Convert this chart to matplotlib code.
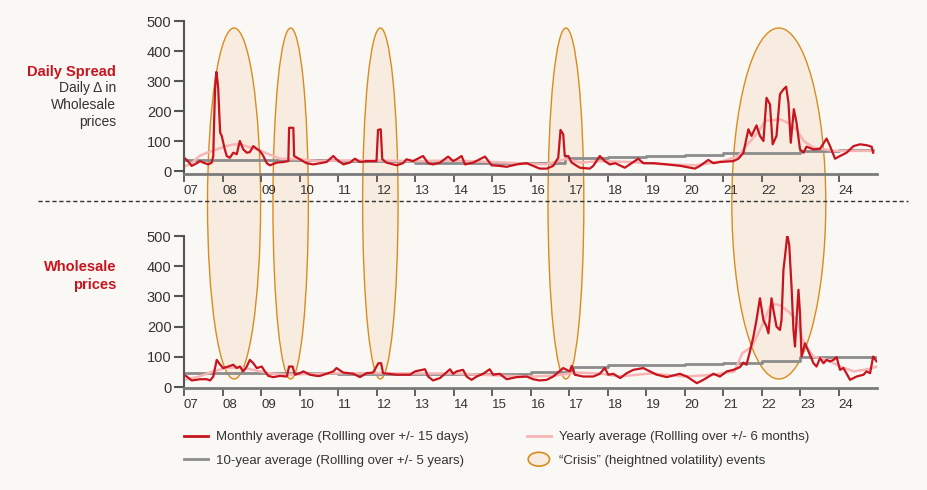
import matplotlib
matplotlib.use('Agg')
import matplotlib.pyplot as plt
from matplotlib.patches import Ellipse
from matplotlib.lines import Line2D
from matplotlib.legend_handler import HandlerPatch
from matplotlib.transforms import blended_transform_factory

plt.rcParams['font.family'] = ['Liberation Sans', 'DejaVu Sans']

# Daily spread (top panel)
spread_month_x = [2007.00, 2007.10, 2007.20, 2007.33, 2007.42, 2007.50, 2007.63, 2007.72, 2007.76, 2007.79,
                  2007.81, 2007.84, 2007.87, 2007.89, 2007.92, 2007.94, 2007.98, 2008.06, 2008.11, 2008.19,
                  2008.28, 2008.37, 2008.45, 2008.54, 2008.63, 2008.71, 2008.80, 2008.89, 2008.97, 2009.06,
                  2009.15, 2009.23, 2009.41, 2009.58, 2009.71, 2009.73, 2009.84, 2009.86, 2010.01, 2010.18,
                  2010.36, 2010.53, 2010.70, 2010.88, 2010.96, 2011.14, 2011.31, 2011.44, 2011.57, 2011.74,
                  2012.00, 2012.04, 2012.11, 2012.15, 2012.26, 2012.52, 2012.69, 2012.78, 2012.95, 2013.21,
                  2013.34, 2013.47, 2013.65, 2013.86, 2013.99, 2014.08, 2014.21, 2014.30, 2014.51, 2014.82,
                  2014.99, 2015.20, 2015.38, 2015.64, 2015.90, 2016.07, 2016.24, 2016.42, 2016.59, 2016.72,
                  2016.78, 2016.85, 2016.89, 2016.98, 2017.07, 2017.28, 2017.54, 2017.63, 2017.80, 2017.93,
                  2018.06, 2018.20, 2018.45, 2018.65, 2018.80, 2018.93, 2019.20, 2019.55, 2019.90, 2020.27,
                  2020.40, 2020.62, 2020.75, 2020.92, 2021.27, 2021.40, 2021.53, 2021.66, 2021.74, 2021.87,
                  2021.96, 2022.05, 2022.13, 2022.22, 2022.29, 2022.39, 2022.48, 2022.57, 2022.64, 2022.70,
                  2022.76, 2022.84, 2022.91, 2023.00, 2023.09, 2023.17, 2023.35, 2023.52, 2023.69, 2023.78,
                  2023.91, 2024.04, 2024.21, 2024.39, 2024.56, 2024.73, 2024.86, 2024.90]
spread_month_y = [45, 33, 17, 26, 33, 28, 22, 28, 50, 200,
                  283, 330, 300, 272, 180, 128, 117, 72, 50, 44,
                  61, 56, 100, 72, 61, 63, 83, 74, 67, 50,
                  26, 19, 28, 30, 33, 144, 144, 50, 39, 26,
                  22, 26, 30, 50, 39, 22, 28, 41, 30, 33,
                  33, 137, 139, 39, 28, 19, 26, 39, 33, 50,
                  26, 22, 28, 48, 33, 39, 50, 22, 28, 48,
                  19, 17, 14, 22, 26, 17, 8, 8, 17, 44,
                  137, 122, 50, 50, 28, 11, 8, 17, 50, 33,
                  22, 26, 11, 28, 41, 26, 26, 22, 17, 8,
                  17, 37, 26, 30, 33, 41, 61, 139, 117, 152,
                  117, 100, 244, 222, 89, 117, 256, 272, 281, 228,
                  94, 206, 161, 72, 61, 81, 72, 74, 108, 83,
                  41, 50, 61, 83, 89, 86, 81, 61]

spread_year_x = [2007.0, 2007.2, 2007.4, 2007.6, 2007.85, 2008.1, 2008.3, 2008.5, 2008.9, 2009.2,
                 2009.5, 2010.0, 2010.5, 2011.0, 2012.0, 2013.0, 2014.0, 2015.0, 2015.8, 2016.4,
                 2016.9, 2017.3, 2017.8, 2018.6, 2019.5, 2020.3, 2021.0, 2021.4, 2021.6, 2021.9,
                 2022.1, 2022.5, 2022.75, 2022.9, 2023.1, 2023.35, 2023.9, 2024.4, 2024.9]
spread_year_y = [14, 26, 50, 61, 72, 83, 89, 87, 72, 56,
                 41, 39, 33, 35, 35, 33, 35, 30, 25, 22,
                 40, 28, 33, 30, 22, 19, 33, 50, 83, 128,
                 167, 172, 156, 139, 100, 78, 67, 67, 67]

spread_decade_x = [2007.0, 2011.0, 2013.0, 2015.0, 2016.9, 2018.0, 2019.0, 2020.0, 2021.0, 2022.0, 2023.0, 2024.0, 2024.9]
spread_decade_y = [38, 32, 28, 26, 43, 47, 50, 54, 59, 61, 67, 70, 70]

# Wholesale prices (bottom panel)
price_month_x = [2007.00, 2007.07, 2007.20, 2007.42, 2007.59, 2007.68, 2007.76, 2007.85, 2007.94, 2008.02,
                 2008.15, 2008.28, 2008.37, 2008.45, 2008.54, 2008.63, 2008.71, 2008.80, 2008.89, 2009.02,
                 2009.10, 2009.19, 2009.32, 2009.49, 2009.67, 2009.73, 2009.82, 2009.88, 2010.01, 2010.10,
                 2010.27, 2010.45, 2010.53, 2010.70, 2010.88, 2010.96, 2011.14, 2011.40, 2011.57, 2011.74,
                 2011.91, 2012.05, 2012.12, 2012.17, 2012.52, 2012.87, 2013.00, 2013.26, 2013.34, 2013.47,
                 2013.65, 2013.91, 2013.99, 2014.08, 2014.25, 2014.34, 2014.47, 2014.60, 2014.77, 2014.94,
                 2015.03, 2015.20, 2015.38, 2015.64, 2015.90, 2016.07, 2016.24, 2016.42, 2016.59, 2016.85,
                 2016.94, 2017.02, 2017.07, 2017.15, 2017.37, 2017.63, 2017.80, 2017.93, 2018.02, 2018.15,
                 2018.33, 2018.50, 2018.67, 2018.93, 2019.10, 2019.28, 2019.54, 2019.88, 2020.06, 2020.32,
                 2020.49, 2020.75, 2020.92, 2021.10, 2021.27, 2021.44, 2021.53, 2021.61, 2021.70, 2021.79,
                 2021.87, 2021.96, 2022.05, 2022.13, 2022.18, 2022.26, 2022.31, 2022.39, 2022.48, 2022.52,
                 2022.57, 2022.61, 2022.67, 2022.72, 2022.78, 2022.83, 2022.87, 2022.91, 2022.96, 2023.00,
                 2023.04, 2023.13, 2023.22, 2023.35, 2023.43, 2023.52, 2023.61, 2023.69, 2023.78, 2023.87,
                 2023.95, 2024.04, 2024.13, 2024.30, 2024.47, 2024.65, 2024.73, 2024.82, 2024.90, 2024.99]
price_month_y = [40, 35, 22, 26, 26, 22, 35, 90, 74, 63,
                 68, 74, 63, 68, 52, 68, 90, 79, 63, 68,
                 52, 37, 33, 37, 35, 68, 68, 41, 46, 52,
                 41, 37, 37, 44, 52, 63, 48, 44, 33, 46,
                 48, 79, 79, 46, 41, 41, 52, 59, 35, 22,
                 30, 59, 44, 52, 57, 35, 24, 35, 44, 59,
                 41, 44, 26, 33, 35, 26, 22, 24, 35, 63,
                 57, 52, 70, 41, 35, 35, 44, 63, 41, 44,
                 30, 46, 57, 63, 52, 41, 33, 44, 35, 13,
                 24, 44, 35, 52, 57, 66, 81, 74, 118, 167,
                 222, 294, 222, 200, 178, 294, 255, 200, 189, 222,
                 388, 432, 503, 470, 333, 189, 134, 222, 322, 244,
                 101, 145, 118, 79, 68, 96, 79, 90, 85, 90,
                 99, 57, 63, 24, 35, 41, 52, 46, 101, 85]

price_year_x = [2007.0, 2007.4, 2007.76, 2008.1, 2008.45, 2008.8, 2009.2, 2009.6, 2010.4, 2011.0,
                2012.0, 2013.0, 2014.0, 2015.2, 2016.0, 2016.6, 2017.2, 2017.8, 2018.3, 2019.1,
                2020.0, 2020.7, 2021.3, 2021.5, 2021.75, 2022.0, 2022.26, 2022.5, 2022.75, 2022.92,
                2023.1, 2023.35, 2023.7, 2024.05, 2024.4, 2024.75, 2025.0]
price_year_y = [24, 35, 52, 63, 65, 57, 46, 41, 44, 46,
                46, 45, 45, 38, 35, 38, 48, 45, 35, 45,
                35, 40, 52, 112, 134, 200, 277, 270, 244, 222,
                145, 101, 90, 68, 52, 59, 68]

price_decade_x = [2007.0, 2011.0, 2016.0, 2017.1, 2018.0, 2019.0, 2020.0, 2021.0, 2022.0, 2023.0, 2025.0]
price_decade_y = [46, 43, 51, 66, 72, 74, 77, 81, 85, 99, 99]

# crisis events: centre year, width in years
crisis_centre = [2008.30, 2009.77, 2012.10, 2016.92, 2022.45]
crisis_width = [1.38, 0.92, 0.92, 0.93, 2.44]

year_ticks = list(range(2007, 2025))
year_labels = ['%02d' % (y % 100) for y in year_ticks]

RED = '#c8141e'
PINK = '#f7b5b5'
GREY = '#8c8c8c'
BG = '#faf8f4'
TXT = '#333333'

W, H = 928, 490
fig = plt.figure(figsize=(9.28, 4.90), dpi=100, facecolor=BG)

def fx(px):
    return px / W

def fy(py):
    return 1 - py / H

x0, x1 = 184, 877
ax_bg = fig.add_axes([fx(x0), fy(379), fx(x1 - x0), (379 - 28) / H], zorder=0)
ax_bg.set_xlim(2007, 2025)
ax_bg.set_ylim(0, 1)
ax_bg.axis('off')
blend = blended_transform_factory(ax_bg.transData, ax_bg.transAxes)
for c, w in zip(crisis_centre, crisis_width):
    ax_bg.add_patch(Ellipse((c, 0.5), w, 1.0, transform=blend, facecolor='#f7ecdf',
                            edgecolor='#d98c1e', lw=1.0, clip_on=False))

ax_top = fig.add_axes([fx(x0), fy(174), fx(x1 - x0), (174 - 21) / H], zorder=1)
ax_bot = fig.add_axes([fx(x0), fy(388), fx(x1 - x0), (388 - 236) / H], zorder=1)

ax_top.plot(spread_decade_x, spread_decade_y, color=GREY, lw=2, drawstyle='steps-post')
ax_top.plot(spread_year_x, spread_year_y, color=PINK, lw=1.8)
ax_top.plot(spread_month_x, spread_month_y, color=RED, lw=1.6)
ax_top.set_ylim(-10, 500)

ax_bot.plot(price_decade_x, price_decade_y, color=GREY, lw=2, drawstyle='steps-post')
ax_bot.plot(price_year_x, price_year_y, color=PINK, lw=1.8)
ax_bot.plot(price_month_x, price_month_y, color=RED, lw=1.6)
ax_bot.set_ylim(-3, 500)

for ax in (ax_top, ax_bot):
    ax.set_facecolor('none')
    ax.set_xlim(2007, 2025)
    ax.set_yticks([0, 100, 200, 300, 400, 500])
    ax.set_xticks(year_ticks)
    ax.set_xticklabels(year_labels, ha='left')
    for s in ('top', 'right'):
        ax.spines[s].set_visible(False)
    ax.spines['left'].set_color('#555555')
    ax.spines['left'].set_linewidth(1.5)
    ax.spines['left'].set_bounds(-3 if ax is ax_bot else -10, 500)
    ax.spines['bottom'].set_color('#7a7a7a')
    ax.spines['bottom'].set_linewidth(2)
    ax.tick_params(axis='y', length=7, width=1.5, color='#555555', labelsize=10.5, labelcolor=TXT, pad=2)
    ax.tick_params(axis='x', length=6, width=1.3, color='#555555', labelsize=9.5, labelcolor=TXT, pad=2)

# side labels
fig.text(fx(116), fy(72), 'Daily Spread', color=RED, fontsize=10.5, fontweight='bold', ha='right', va='center')
fig.text(fx(116), fy(105), 'Daily \u0394 in\nWholesale\nprices', color=TXT, fontsize=10,
         ha='right', va='center', linespacing=1.3)
fig.text(fx(116), fy(276), 'Wholesale\nprices', color=RED, fontsize=10.5, fontweight='bold',
         ha='right', va='center', linespacing=1.35)

# separator
fig.add_artist(Line2D([fx(38), fx(908)], [fy(201), fy(201)], color='#333333', lw=1, ls=(0, (3, 2))))

class HandlerEllipse(HandlerPatch):
    def create_artists(self, legend, orig_handle, xdescent, ydescent, width, height, fontsize, trans):
        e = Ellipse((0.5 * width - xdescent, 0.5 * height - ydescent), width * 0.9, height * 1.5)
        self.update_prop(e, orig_handle, legend)
        e.set_transform(trans)
        return [e]

h_month = Line2D([], [], color=RED, lw=2)
h_year = Line2D([], [], color=PINK, lw=2)
h_dec = Line2D([], [], color=GREY, lw=2)
h_crisis = Ellipse((0, 0), 1, 1, facecolor='#f7ecdf', edgecolor='#d98c1e', lw=1.2)

leg_kw = dict(loc='center left', frameon=False, fontsize=9.5, handlelength=1.8, handletextpad=0.65,
              labelspacing=0.85, borderpad=0, borderaxespad=0, labelcolor=TXT)
leg1 = fig.legend([h_month, h_dec], ['Monthly average (Rollling over +/- 15 days)',
                                     '10-year average (Rollling over +/- 5 years)'],
                  bbox_to_anchor=(fx(184), fy(449)), **leg_kw)
leg2 = fig.legend([h_year, h_crisis], ['Yearly average (Rollling over +/- 6 months)',
                                       '\u201cCrisis\u201d (heightned volatility) events'],
                  bbox_to_anchor=(fx(527), fy(449)), handler_map={Ellipse: HandlerEllipse()}, **leg_kw)

fig.savefig('out.png', dpi=100, facecolor=BG)
